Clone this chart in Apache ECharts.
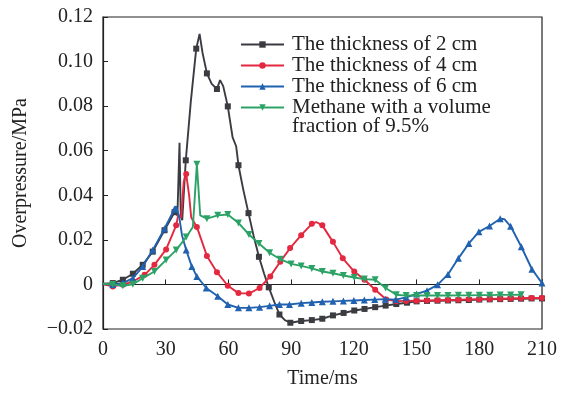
<!DOCTYPE html>
<html>
<head>
<meta charset="utf-8">
<script src="https://cdn.jsdelivr.net/npm/echarts@6/dist/echarts.min.js"></script>
<style>
html,body{margin:0;padding:0;background:#fff;}
#chart{width:565px;height:394px;}
</style>
</head>
<body>
<div id="chart"></div>
<script>
// ---- data ----
const seriesNames = ['The thickness of 2 cm', 'The thickness of 4 cm', 'The thickness of 6 cm', 'Methane with a volume fraction of 9.5%'];
const legendLines = ['The thickness of 2 cm', 'The thickness of 4 cm', 'The thickness of 6 cm', 'Methane with a volume'];
const legendWrapLine = 'fraction of 9.5%';
const xTickLabels = ['0', '30', '60', '90', '120', '150', '180', '210'];
const yTickLabels = ['\u22120.02', '0', '0.02', '0.04', '0.06', '0.08', '0.10', '0.12'];

// 2 cm (time ms, overpressure MPa, marker flag)
const t2 = [0, 4.7, 9.5, 14.3, 19.0, 23.8, 29.4, 34.2, 35.6, 36.6, 37.2, 37.9, 39.6, 42.0, 44.6, 46.2, 47.6, 49.7, 52.0, 54.5, 56.0, 57.5, 59.7, 62.0, 63.7, 64.8, 67.0, 69.6, 72.0, 74.6, 77.0, 79.3, 82.0, 84.4, 87.0, 89.6, 94.8, 99.9, 104.9, 110.0, 115.1, 120.2, 125.1, 130.2, 135.2, 140.3, 145.4, 150, 155, 160, 165, 170, 175, 180, 185, 190, 195, 200, 205, 210];
const v2 = [0.0003, 0.0006, 0.0021, 0.0048, 0.0088, 0.0147, 0.0243, 0.0324, 0.0310, 0.0636, 0.0310, 0.0288, 0.0557, 0.0820, 0.1058, 0.1124, 0.1040, 0.0947, 0.0900, 0.0877, 0.0917, 0.0890, 0.0799, 0.0660, 0.0620, 0.0535, 0.0430, 0.0320, 0.0220, 0.0124, 0.0050, -0.0013, -0.0080, -0.0135, -0.0160, -0.0172, -0.0164, -0.0160, -0.0154, -0.0139, -0.0128, -0.0117, -0.0110, -0.0102, -0.0095, -0.0088, -0.0082, -0.0076, -0.0074, -0.0073, -0.0072, -0.0071, -0.0070, -0.0068, -0.0067, -0.0066, -0.0065, -0.0064, -0.0063, -0.0063];
const m2 = [0, 1, 1, 1, 1, 1, 1, 1, 0, 0, 0, 0, 1, 0, 1, 0, 0, 1, 0, 1, 0, 0, 1, 0, 0, 1, 0, 1, 0, 1, 0, 1, 0, 1, 0, 1, 1, 1, 1, 1, 1, 1, 1, 1, 1, 1, 1, 1, 1, 1, 1, 1, 1, 1, 1, 1, 1, 1, 1, 1];

// 4 cm
const t4 = [0, 4.7, 9.5, 14.3, 19.9, 24.6, 30.2, 35.0, 36.0, 37.4, 38.6, 39.8, 41.2, 42.2, 44.9, 49.7, 54.5, 59.7, 64.8, 69.8, 74.9, 80.0, 84.8, 89.5, 94.8, 99.9, 102.0, 104.9, 110.0, 114.7, 120.2, 125.1, 130.2, 135.5, 140.3, 145, 150, 155, 160, 165, 170, 175, 180, 185, 190, 195, 200, 205, 210];
const v4 = [0.0000, -0.0009, -0.0001, 0.0013, 0.0043, 0.0088, 0.0157, 0.0265, 0.0312, 0.0300, 0.0460, 0.0495, 0.0400, 0.0300, 0.0258, 0.0128, 0.0055, -0.0006, -0.0039, -0.0041, -0.0016, 0.0036, 0.0102, 0.0163, 0.0221, 0.0272, 0.0280, 0.0265, 0.0191, 0.0117, 0.0058, 0.0021, -0.0024, -0.0068, -0.0075, -0.0074, -0.0073, -0.0072, -0.0071, -0.0070, -0.0069, -0.0067, -0.0066, -0.0065, -0.0064, -0.0063, -0.0062, -0.0061, -0.0061];
const m4 = [0, 1, 1, 1, 1, 1, 1, 1, 0, 0, 0, 1, 0, 0, 1, 1, 1, 1, 1, 1, 1, 1, 1, 1, 1, 1, 0, 1, 1, 1, 1, 1, 1, 1, 1, 1, 1, 1, 1, 1, 1, 1, 1, 1, 1, 1, 1, 1, 1];

// 6 cm
const t6 = [0, 4.7, 9.5, 14.3, 19.0, 23.8, 29.4, 34.2, 35.0, 36.5, 37.8, 39.8, 42.5, 44.9, 49.4, 54.9, 59.7, 64.8, 69.8, 74.9, 79.7, 84.4, 89.2, 94.8, 99.9, 104.9, 110, 115, 120, 125, 130, 135, 140, 145, 150, 155, 160, 165, 170, 175, 179.8, 184.9, 190, 192, 195, 200.1, 205.2, 210];
const v6 = [0.0002, 0.0000, 0.0006, 0.0028, 0.0080, 0.0154, 0.0250, 0.0339, 0.0351, 0.0300, 0.0220, 0.0154, 0.0080, 0.0036, -0.0016, -0.0053, -0.0090, -0.0105, -0.0105, -0.0102, -0.0096, -0.0090, -0.0090, -0.0084, -0.0081, -0.0078, -0.0076, -0.0074, -0.0072, -0.0070, -0.0068, -0.0066, -0.0068, -0.0058, -0.0043, -0.0028, -0.0002, 0.0045, 0.0117, 0.0184, 0.0236, 0.0262, 0.0295, 0.0293, 0.0261, 0.0169, 0.0068, 0.0006];
const m6 = [0, 1, 1, 1, 1, 1, 1, 1, 0, 0, 0, 1, 1, 1, 1, 1, 1, 1, 1, 1, 1, 1, 1, 1, 1, 1, 1, 1, 1, 1, 1, 1, 1, 1, 1, 1, 1, 1, 1, 1, 1, 1, 1, 0, 1, 1, 1, 1];

// methane 9.5%
const tm = [0, 4.7, 9.5, 14.3, 19.0, 24.6, 30.2, 35.0, 39.8, 43.0, 44.9, 46.5, 49.7, 54.9, 59.7, 64.8, 69.8, 74.6, 79.7, 84.8, 90.0, 94.8, 99.9, 104.9, 110, 115, 120.2, 125, 130.2, 135.2, 140.3, 145, 150, 155, 160, 165, 170, 175, 180, 185, 190, 195, 200];
const vm = [0.0003, 0.0000, -0.0006, 0.0001, 0.0028, 0.0058, 0.0110, 0.0154, 0.0213, 0.0258, 0.0539, 0.0310, 0.0295, 0.0310, 0.0314, 0.0276, 0.0224, 0.0184, 0.0142, 0.0113, 0.0092, 0.0083, 0.0072, 0.0058, 0.0050, 0.0040, 0.0031, 0.0024, 0.0021, -0.0016, -0.0046, -0.0050, -0.0050, -0.0050, -0.0050, -0.0050, -0.0049, -0.0049, -0.0048, -0.0048, -0.0047, -0.0047, -0.0046];
const mm = [0, 1, 1, 1, 1, 1, 1, 1, 1, 0, 1, 0, 1, 1, 1, 1, 1, 1, 1, 1, 1, 1, 1, 1, 1, 1, 1, 1, 1, 1, 1, 1, 1, 1, 1, 1, 1, 1, 1, 1, 1, 1, 1];

const colors = ['#3b3b42', '#e3283f', '#2162b0', '#2ca366'];
const symbols = ['rect', 'circle', 'triangle', 'triangle'];
const rotates = [0, 0, 0, 180];
const sizes = [6, 6, 7, 7];

const yMin = -0.02, yMax = 0.12, yStep = 0.02;
const xMin = 0, xMax = 210, xStep = 30;

function build(t, v, m) {
  return t.map((x, i) => m[i] ? [x, v[i]] : { value: [x, v[i]], symbol: 'none' });
}
const datasets = [build(t2, v2, m2), build(t4, v4, m4), build(t6, v6, m6), build(tm, vm, mm)];

const FONT = '"Liberation Serif", "Times New Roman", serif';
const TXT = '#222';
const chart = echarts.init(document.getElementById('chart'), null, { renderer: 'canvas' });
chart.setOption({
  animation: false,
  backgroundColor: '#fff',
  grid: { left: 103, right: 23, top: 17, bottom: 59, show: true, borderColor: TXT, borderWidth: 1.2, containLabel: false },
  legend: {
    orient: 'vertical',
    left: 240, top: 34, padding: 0,
    itemWidth: 43, itemHeight: 8, itemGap: 0,
    data: seriesNames,
    formatter: (name) => legendLines[seriesNames.indexOf(name)],
    textStyle: { fontFamily: FONT, fontSize: 21, color: TXT, lineHeight: 20, padding: [0, 0, 0, 3] }
  },
  graphic: [{
    type: 'text', left: 292, top: 116,
    style: { text: legendWrapLine, fontFamily: FONT, fontSize: 21, fill: TXT }
  }],
  xAxis: {
    type: 'value', min: xMin, max: xMax, interval: xStep,
    name: 'Time/ms', nameLocation: 'middle', nameGap: 40,
    nameTextStyle: { fontFamily: FONT, fontSize: 20, color: TXT },
    axisLine: { lineStyle: { color: TXT, width: 1.2 } },
    axisTick: { inside: true, length: 5, lineStyle: { color: TXT } },
    axisLabel: { fontFamily: FONT, fontSize: 20, color: TXT, margin: 11,
      formatter: (val) => xTickLabels[Math.round((val - xMin) / xStep)] },
    splitLine: { show: false }
  },
  yAxis: {
    type: 'value', min: yMin, max: yMax, interval: yStep,
    name: 'Overpressure/MPa', nameLocation: 'middle', nameGap: 72,
    nameTextStyle: { fontFamily: FONT, fontSize: 20, color: TXT },
    axisLine: { show: true, lineStyle: { color: TXT, width: 1.2 } },
    axisTick: { show: true, inside: true, length: 5, lineStyle: { color: TXT } },
    axisLabel: { fontFamily: FONT, fontSize: 20, color: TXT, margin: 10,
      formatter: (val) => yTickLabels[Math.round((val - yMin) / yStep)] },
    splitLine: { show: false }
  },
  series: seriesNames.map((n, i) => ({
    name: n, type: 'line', data: datasets[i],
    symbol: symbols[i], symbolSize: sizes[i], symbolRotate: rotates[i],
    showAllSymbol: true,
    lineStyle: { color: colors[i], width: 1.9 },
    itemStyle: { color: colors[i] },
    z: 2 + i
  }))
});
</script>
</body>
</html>
